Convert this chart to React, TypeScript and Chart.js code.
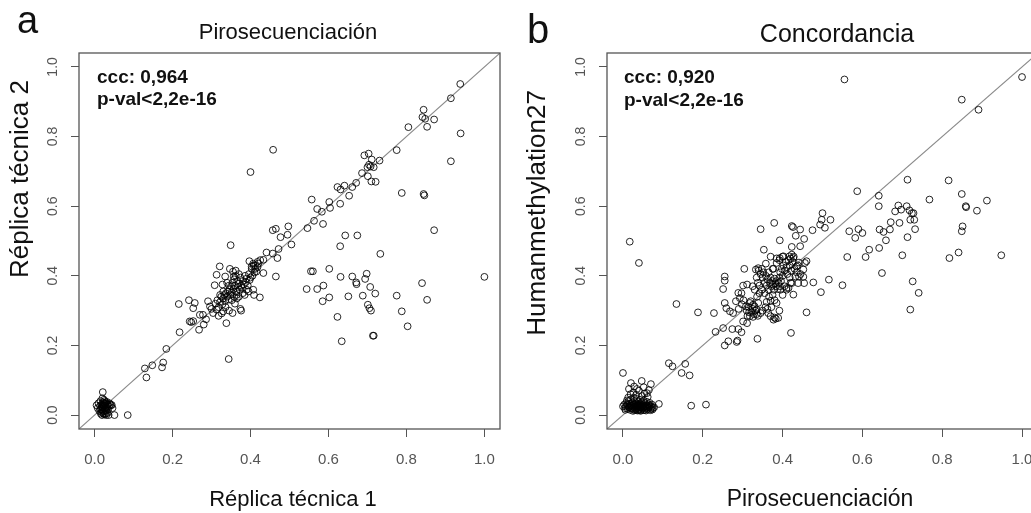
import React, { useEffect, useRef } from "react";
import { Chart, registerables } from "chart.js";

Chart.register(...registerables);

const FONT = "'Liberation Sans', Arial, Helvetica, sans-serif";

// ---- shared axis data ----
const tickValues: number[] = [0, 0.2, 0.4, 0.6, 0.8, 1.0];
const tickLabels: string[] = ["0.0", "0.2", "0.4", "0.6", "0.8", "1.0"];
const axisMin = -0.04;
const axisMax = 1.04;

// ---- panel a : Pirosecuenciación (Réplica técnica 1 vs 2) ----
const aLowCluster: [number, number][] = [
  [0.005, 0.028], [0.008, 0.02], [0.01, 0.034], [0.012, 0.012], [0.014, 0.026], [0.015, 0.04],
  [0.016, 0.004], [0.017, 0.018], [0.018, 0.03], [0.019, 0.0], [0.02, 0.024], [0.021, 0.036],
  [0.022, 0.01], [0.023, 0.028], [0.024, 0.044], [0.025, 0.002], [0.026, 0.02], [0.027, 0.032],
  [0.028, 0.014], [0.029, 0.026], [0.03, 0.0], [0.031, 0.038], [0.032, 0.022], [0.033, 0.006],
  [0.034, 0.03], [0.035, 0.016], [0.036, 0.0], [0.037, 0.025], [0.038, 0.034], [0.04, 0.03],
  [0.042, 0.028], [0.044, 0.029], [0.046, 0.02], [0.021, 0.066], [0.051, 0.0], [0.085, 0.0],
  [0.02, 0.048], [0.026, 0.04], [0.015, 0.016], [0.018, 0.008], [0.024, 0.034], [0.03, 0.012],
  [0.019, 0.022], [0.022, 0.03], [0.025, 0.026], [0.027, 0.018], [0.02, 0.014], [0.023, 0.004],
  [0.028, 0.004], [0.032, 0.03], [0.026, 0.034], [0.024, 0.012], [0.021, 0.028], [0.029, 0.036],
];
const aLowerDiagonal: [number, number][] = [
  [0.129, 0.134], [0.133, 0.108], [0.148, 0.143], [0.173, 0.137], [0.176, 0.151], [0.184, 0.19],
  [0.218, 0.238], [0.216, 0.319], [0.242, 0.33], [0.257, 0.322], [0.253, 0.307], [0.244, 0.269],
  [0.248, 0.267], [0.253, 0.27], [0.268, 0.245], [0.28, 0.26], [0.27, 0.288], [0.278, 0.288],
  [0.286, 0.275], [0.291, 0.327], [0.296, 0.312], [0.304, 0.293], [0.3, 0.305], [0.308, 0.373],
  [0.313, 0.403], [0.321, 0.427], [0.338, 0.264], [0.344, 0.161], [0.349, 0.488],
];
const aMainCluster: [number, number][] = [
  [0.31, 0.32], [0.315, 0.33], [0.318, 0.31], [0.322, 0.325], [0.325, 0.34], [0.328, 0.318],
  [0.33, 0.335], [0.333, 0.345], [0.335, 0.328], [0.337, 0.35], [0.34, 0.34], [0.342, 0.355],
  [0.344, 0.332], [0.346, 0.36], [0.348, 0.345], [0.35, 0.37], [0.352, 0.352], [0.354, 0.38],
  [0.356, 0.362], [0.358, 0.39], [0.36, 0.372], [0.362, 0.4], [0.364, 0.355], [0.366, 0.385],
  [0.368, 0.368], [0.37, 0.378], [0.372, 0.36], [0.374, 0.395], [0.376, 0.372], [0.378, 0.365],
  [0.38, 0.385], [0.383, 0.375], [0.386, 0.4], [0.388, 0.382], [0.39, 0.392], [0.393, 0.372],
  [0.396, 0.405], [0.398, 0.388], [0.4, 0.395], [0.403, 0.42], [0.405, 0.4], [0.408, 0.43],
  [0.41, 0.41], [0.412, 0.42], [0.415, 0.412], [0.418, 0.425], [0.42, 0.435], [0.424, 0.338],
  [0.407, 0.36], [0.409, 0.345], [0.374, 0.305], [0.376, 0.3], [0.354, 0.293], [0.345, 0.3],
  [0.336, 0.31], [0.33, 0.298], [0.326, 0.292], [0.318, 0.285], [0.313, 0.303], [0.36, 0.32],
  [0.365, 0.335], [0.37, 0.34], [0.38, 0.35], [0.385, 0.345], [0.39, 0.36], [0.395, 0.355],
  [0.347, 0.42], [0.355, 0.412], [0.362, 0.415], [0.37, 0.405], [0.357, 0.398], [0.335, 0.398],
  [0.328, 0.375], [0.34, 0.38], [0.345, 0.372], [0.352, 0.33], [0.358, 0.34], [0.364, 0.345],
  [0.33, 0.355], [0.322, 0.345],
];
const aUpperDiagonal: [number, number][] = [
  [0.397, 0.442], [0.403, 0.427], [0.407, 0.435], [0.412, 0.43], [0.418, 0.44], [0.425, 0.445],
  [0.433, 0.446], [0.441, 0.467], [0.433, 0.408], [0.465, 0.398], [0.457, 0.464], [0.469, 0.451],
  [0.472, 0.477], [0.477, 0.511], [0.495, 0.518], [0.505, 0.49], [0.497, 0.542], [0.465, 0.535],
  [0.457, 0.531], [0.546, 0.537], [0.563, 0.558], [0.571, 0.592], [0.583, 0.584], [0.604, 0.595],
  [0.586, 0.549], [0.557, 0.619], [0.602, 0.612], [0.63, 0.607], [0.623, 0.655], [0.641, 0.659],
  [0.631, 0.648], [0.653, 0.63], [0.661, 0.655], [0.671, 0.667], [0.686, 0.695], [0.692, 0.746],
  [0.703, 0.751], [0.711, 0.734], [0.704, 0.719], [0.708, 0.714], [0.7, 0.712], [0.716, 0.712],
  [0.701, 0.686], [0.71, 0.671], [0.721, 0.67], [0.731, 0.731], [0.775, 0.761], [0.805, 0.827],
  [0.844, 0.877], [0.841, 0.856], [0.848, 0.851], [0.853, 0.828], [0.871, 0.849], [0.914, 0.91],
  [0.938, 0.951], [0.4, 0.698], [0.458, 0.762],
];
const aOffDiagonal: [number, number][] = [
  [0.939, 0.809], [0.914, 0.729], [0.788, 0.638], [0.844, 0.635], [0.846, 0.631], [0.871, 0.531],
  [0.643, 0.516], [0.674, 0.516], [0.63, 0.485], [0.733, 0.463], [1.0, 0.397], [0.56, 0.413],
  [0.555, 0.413], [0.602, 0.42], [0.631, 0.397], [0.661, 0.398], [0.698, 0.406], [0.694, 0.391],
  [0.672, 0.376], [0.671, 0.381], [0.707, 0.368], [0.84, 0.379], [0.72, 0.349], [0.688, 0.343],
  [0.651, 0.341], [0.775, 0.343], [0.853, 0.331], [0.544, 0.362], [0.571, 0.362], [0.587, 0.372],
  [0.602, 0.338], [0.585, 0.327], [0.701, 0.317], [0.705, 0.307], [0.709, 0.3], [0.788, 0.298],
  [0.803, 0.255], [0.623, 0.282], [0.714, 0.228], [0.716, 0.228], [0.634, 0.212],
];

// ---- panel b : Concordancia (Pirosecuenciación vs Humanmethylation27) ----
const bLowCluster: [number, number][] = [
  [0.0, 0.025], [0.003, 0.03], [0.005, 0.02], [0.008, 0.035], [0.01, 0.028], [0.012, 0.018],
  [0.014, 0.04], [0.015, 0.024], [0.017, 0.032], [0.018, 0.015], [0.02, 0.045], [0.021, 0.027],
  [0.022, 0.02], [0.024, 0.036], [0.025, 0.012], [0.026, 0.03], [0.027, 0.05], [0.028, 0.022],
  [0.03, 0.04], [0.031, 0.017], [0.032, 0.028], [0.033, 0.034], [0.034, 0.024], [0.035, 0.046],
  [0.036, 0.013], [0.037, 0.031], [0.038, 0.02], [0.039, 0.038], [0.04, 0.026], [0.041, 0.016],
  [0.042, 0.033], [0.043, 0.044], [0.044, 0.022], [0.045, 0.029], [0.046, 0.014], [0.047, 0.037],
  [0.048, 0.025], [0.049, 0.019], [0.05, 0.031], [0.052, 0.042], [0.053, 0.023], [0.054, 0.016],
  [0.055, 0.034], [0.057, 0.027], [0.058, 0.02], [0.06, 0.038], [0.061, 0.025], [0.063, 0.017],
  [0.064, 0.03], [0.066, 0.022], [0.068, 0.028], [0.07, 0.018], [0.072, 0.024], [0.075, 0.02],
  [0.013, 0.05], [0.019, 0.06], [0.026, 0.065], [0.033, 0.058], [0.04, 0.07], [0.047, 0.055],
  [0.054, 0.062], [0.062, 0.052], [0.02, 0.092], [0.047, 0.098], [0.07, 0.089], [0.035, 0.075],
  [0.06, 0.063], [0.09, 0.032], [0.028, 0.082], [0.015, 0.075], [0.052, 0.08], [0.065, 0.072],
  [0.01, 0.042], [0.006, 0.015], [0.029, 0.014], [0.044, 0.012], [0.058, 0.013], [0.067, 0.035],
  [0.073, 0.03], [0.078, 0.022], [0.016, 0.022], [0.019, 0.028], [0.023, 0.025], [0.027, 0.028],
  [0.029, 0.032], [0.031, 0.025], [0.034, 0.02], [0.036, 0.028], [0.038, 0.025], [0.041, 0.022],
  [0.043, 0.027], [0.046, 0.024], [0.049, 0.028], [0.051, 0.021], [0.055, 0.025], [0.059, 0.028],
  [0.062, 0.022], [0.065, 0.026], [0.024, 0.018], [0.033, 0.015], [0.039, 0.014], [0.053, 0.014],
  [0.069, 0.014], [0.012, 0.03], [0.007, 0.025], [0.074, 0.016],
];
const bLowScatter: [number, number][] = [
  [0.115, 0.149], [0.124, 0.14], [0.156, 0.147], [0.147, 0.121], [0.167, 0.114], [0.171, 0.027],
  [0.208, 0.03], [0.0, 0.121], [0.017, 0.498], [0.04, 0.437],
];
const bMidSpread: [number, number][] = [
  [0.255, 0.398], [0.255, 0.386], [0.251, 0.362], [0.255, 0.322], [0.259, 0.307], [0.268, 0.298],
  [0.276, 0.293], [0.289, 0.351], [0.293, 0.336], [0.283, 0.327], [0.228, 0.293], [0.188, 0.295],
  [0.134, 0.319], [0.232, 0.239], [0.251, 0.25], [0.274, 0.247], [0.289, 0.247], [0.297, 0.238],
  [0.255, 0.2], [0.264, 0.212], [0.285, 0.21], [0.287, 0.214], [0.301, 0.269], [0.311, 0.264],
  [0.318, 0.284], [0.32, 0.327], [0.326, 0.317], [0.335, 0.303], [0.345, 0.293], [0.339, 0.322],
  [0.364, 0.293], [0.377, 0.274], [0.383, 0.277], [0.389, 0.279], [0.37, 0.284], [0.304, 0.42],
  [0.337, 0.219], [0.421, 0.236], [0.46, 0.295], [0.427, 0.346], [0.439, 0.379], [0.454, 0.379],
  [0.452, 0.397], [0.452, 0.418], [0.46, 0.442], [0.456, 0.437], [0.393, 0.502], [0.379, 0.552],
  [0.345, 0.534], [0.353, 0.475], [0.423, 0.543], [0.426, 0.54], [0.433, 0.515], [0.444, 0.533],
  [0.444, 0.485], [0.423, 0.483], [0.454, 0.506], [0.475, 0.531], [0.477, 0.381], [0.496, 0.353],
  [0.516, 0.389], [0.55, 0.373], [0.494, 0.547], [0.498, 0.561], [0.5, 0.58], [0.506, 0.538],
  [0.52, 0.561], [0.301, 0.372], [0.311, 0.375], [0.333, 0.418], [0.339, 0.422], [0.377, 0.42],
  [0.385, 0.437], [0.393, 0.451], [0.402, 0.456], [0.417, 0.456], [0.423, 0.461], [0.427, 0.451],
  [0.435, 0.427], [0.441, 0.398], [0.393, 0.37], [0.41, 0.365], [0.423, 0.379],
];
const bMainCluster: [number, number][] = [
  [0.31, 0.3], [0.315, 0.31], [0.318, 0.322], [0.322, 0.296], [0.325, 0.305], [0.328, 0.29],
  [0.33, 0.312], [0.332, 0.3], [0.335, 0.29], [0.338, 0.285], [0.326, 0.282], [0.312, 0.285],
  [0.316, 0.295], [0.308, 0.312], [0.34, 0.415], [0.345, 0.405], [0.348, 0.42], [0.35, 0.395],
  [0.352, 0.41], [0.355, 0.38], [0.358, 0.4], [0.36, 0.372], [0.362, 0.39], [0.365, 0.36],
  [0.368, 0.38], [0.37, 0.395], [0.372, 0.37], [0.374, 0.385], [0.376, 0.375], [0.378, 0.36],
  [0.38, 0.392], [0.382, 0.378], [0.384, 0.37], [0.386, 0.385], [0.388, 0.362], [0.39, 0.38],
  [0.392, 0.395], [0.394, 0.41], [0.396, 0.385], [0.398, 0.42], [0.4, 0.4], [0.402, 0.43],
  [0.405, 0.415], [0.408, 0.44], [0.41, 0.425], [0.412, 0.405], [0.415, 0.445], [0.418, 0.43],
  [0.42, 0.45], [0.422, 0.415], [0.425, 0.44], [0.428, 0.455], [0.43, 0.42], [0.432, 0.398],
  [0.435, 0.41], [0.438, 0.43], [0.441, 0.438], [0.415, 0.365], [0.42, 0.38], [0.405, 0.37],
  [0.395, 0.36], [0.4, 0.345], [0.366, 0.34], [0.355, 0.35], [0.348, 0.36], [0.342, 0.372],
  [0.338, 0.38], [0.335, 0.395], [0.33, 0.36], [0.325, 0.37], [0.36, 0.325], [0.37, 0.328],
  [0.38, 0.33], [0.385, 0.322], [0.357, 0.31], [0.35, 0.3], [0.362, 0.305], [0.372, 0.31],
  [0.375, 0.345], [0.41, 0.36], [0.418, 0.395], [0.445, 0.405], [0.4, 0.455], [0.392, 0.445],
  [0.385, 0.45], [0.365, 0.41], [0.358, 0.435], [0.37, 0.455], [0.375, 0.42], [0.342, 0.35],
  [0.336, 0.34], [0.302, 0.33], [0.298, 0.318], [0.29, 0.305], [0.297, 0.35], [0.38, 0.28],
  [0.392, 0.3],
];
const bUpper: [number, number][] = [
  [0.555, 0.964], [1.0, 0.971], [0.849, 0.906], [0.891, 0.877], [0.587, 0.643], [0.713, 0.676],
  [0.816, 0.674], [0.849, 0.635], [0.768, 0.619], [0.912, 0.616], [0.859, 0.6], [0.86, 0.597],
  [0.887, 0.587], [0.641, 0.63], [0.641, 0.6], [0.69, 0.602], [0.711, 0.6], [0.682, 0.585],
  [0.697, 0.59], [0.718, 0.588], [0.728, 0.58], [0.72, 0.561], [0.73, 0.561], [0.693, 0.552],
  [0.671, 0.554], [0.732, 0.534], [0.713, 0.511], [0.851, 0.542], [0.849, 0.528], [0.643, 0.533],
  [0.653, 0.526], [0.669, 0.533], [0.659, 0.502], [0.567, 0.528], [0.59, 0.534], [0.582, 0.509],
  [0.6, 0.523], [0.642, 0.48], [0.617, 0.475], [0.608, 0.454], [0.562, 0.454], [0.7, 0.459],
  [0.818, 0.451], [0.841, 0.467], [0.948, 0.459], [0.649, 0.408], [0.726, 0.384], [0.741, 0.351],
  [0.72, 0.303], [0.724, 0.58],
];

const panelAPoints = [...aLowCluster, ...aLowerDiagonal, ...aMainCluster, ...aUpperDiagonal, ...aOffDiagonal];
const panelBPoints = [...bLowCluster, ...bLowScatter, ...bMidSpread, ...bMainCluster, ...bUpper];

type TextSpec = {
  letter: string; letterX: number; letterY: number; letterSize: number;
  title: string; titleX: number; titleY: number; titleSize: number;
  ccc: string; pval: string; annX: number; annY1: number; annY2: number;
  xTitle: string; xTitleX: number; xTitleY: number; xTitleSize: number;
  yTitle: string; yTitleX: number; yTitleY: number; yTitleSize: number;
};

type PanelSpec = {
  points: [number, number][];
  width: number; left: number; yScaleWidth: number; padRight: number;
  text: TextSpec;
};

const panels: PanelSpec[] = [
  {
    points: panelAPoints, width: 515, left: 0, yScaleWidth: 79, padRight: 15,
    text: {
      letter: "a", letterX: 17, letterY: 33, letterSize: 38,
      title: "Pirosecuenciación", titleX: 288, titleY: 39, titleSize: 22,
      ccc: "ccc: 0,964", pval: "p-val<2,2e-16", annX: 97, annY1: 83, annY2: 105,
      xTitle: "Réplica técnica 1", xTitleX: 293, xTitleY: 506, xTitleSize: 22,
      yTitle: "Réplica técnica 2", yTitleX: 28, yTitleY: 179, yTitleSize: 26,
    },
  },
  {
    points: panelBPoints, width: 531, left: 515, yScaleWidth: 92, padRight: 8,
    text: {
      letter: "b", letterX: 12, letterY: 43, letterSize: 40,
      title: "Concordancia", titleX: 322, titleY: 42, titleSize: 25,
      ccc: "ccc: 0,920", pval: "p-val<2,2e-16", annX: 109, annY1: 83, annY2: 106,
      xTitle: "Pirosecuenciación", xTitleX: 305, xTitleY: 506, xTitleSize: 23,
      yTitle: "Humanmethylation27", yTitleX: 30, yTitleY: 213, yTitleSize: 26,
    },
  },
];

const H = 513;
const TOP = 53;
const XSCALE_H = 84;

function makeDecor(t: TextSpec) {
  return {
    id: "decor",
    afterDraw(chart: any) {
      const { ctx, chartArea } = chart;
      ctx.save();
      ctx.strokeStyle = "#555";
      ctx.lineWidth = 1.3;
      ctx.strokeRect(chartArea.left, chartArea.top, chartArea.right - chartArea.left, chartArea.bottom - chartArea.top);
      ctx.fillStyle = "#111";
      ctx.textBaseline = "alphabetic";
      ctx.textAlign = "left";
      ctx.font = `${t.letterSize}px ${FONT}`;
      ctx.fillText(t.letter, t.letterX, t.letterY);
      ctx.textAlign = "center";
      ctx.font = `${t.titleSize}px ${FONT}`;
      ctx.fillText(t.title, t.titleX, t.titleY);
      ctx.font = `${t.xTitleSize}px ${FONT}`;
      ctx.fillText(t.xTitle, t.xTitleX, t.xTitleY);
      ctx.textAlign = "left";
      ctx.font = `bold 19px ${FONT}`;
      ctx.fillText(t.ccc, t.annX, t.annY1);
      ctx.fillText(t.pval, t.annX, t.annY2);
      ctx.save();
      ctx.translate(t.yTitleX, t.yTitleY);
      ctx.rotate(-Math.PI / 2);
      ctx.textAlign = "center";
      ctx.font = `${t.yTitleSize}px ${FONT}`;
      ctx.fillText(t.yTitle, 0, 0);
      ctx.restore();
      ctx.restore();
    },
  };
}

function Panel({ spec }: { spec: PanelSpec }) {
  const ref = useRef<HTMLCanvasElement>(null);
  useEffect(() => {
    if (!ref.current) return;
    const gridCfg = { display: true, drawOnChartArea: false, drawTicks: true, tickLength: 8, color: "#555", lineWidth: 1 };
    const setTicks = (s: any) => { s.ticks = tickValues.map((v) => ({ value: v })); };
    const fmt = (v: any) => tickLabels[tickValues.indexOf(Number(v))] ?? "";
    const chart = new Chart(ref.current, {
      type: "scatter",
      data: {
        datasets: [
          {
            type: "scatter",
            data: spec.points.map(([x, y]) => ({ x, y })),
            pointStyle: "circle",
            pointRadius: 3.4,
            pointBorderWidth: 1,
            pointBorderColor: "rgba(0,0,0,0.85)",
            pointBackgroundColor: "rgba(0,0,0,0)",
            pointHoverRadius: 3.4,
          } as any,
          {
            type: "line",
            data: [{ x: axisMin, y: axisMin }, { x: axisMax, y: axisMax }],
            borderColor: "#8a8a8a",
            borderWidth: 1.1,
            pointRadius: 0,
            fill: false,
          } as any,
        ],
      },
      options: {
        responsive: false,
        animation: false,
        devicePixelRatio: 1,
        layout: { padding: { top: TOP, left: 0, right: spec.padRight, bottom: 0 } },
        plugins: { legend: { display: false }, tooltip: { enabled: false }, title: { display: false } },
        events: [],
        scales: {
          x: {
            type: "linear",
            min: axisMin,
            max: axisMax,
            afterBuildTicks: setTicks,
            afterFit: (s: any) => { s.height = XSCALE_H; s.paddingLeft = 0; s.paddingRight = 0; },
            ticks: { callback: fmt, color: "#555", font: { family: FONT, size: 15 }, padding: 14, maxRotation: 0, minRotation: 0, autoSkip: false },
            grid: gridCfg,
            border: { display: false },
          },
          y: {
            type: "linear",
            min: axisMin,
            max: axisMax,
            afterBuildTicks: setTicks,
            afterFit: (s: any) => { s.width = spec.yScaleWidth; s.paddingTop = 0; s.paddingBottom = 0; },
            ticks: { callback: fmt, color: "#555", font: { family: FONT, size: 14 }, padding: 8, minRotation: 90, maxRotation: 90, crossAlign: "center", autoSkip: false },
            grid: gridCfg,
            border: { display: false },
          },
        },
      } as any,
      plugins: [makeDecor(spec.text)],
    });
    return () => chart.destroy();
  }, [spec]);
  return (
    <canvas
      ref={ref}
      width={spec.width}
      height={H}
      style={{ position: "absolute", left: spec.left, top: 0, width: spec.width, height: H }}
    />
  );
}

export default function App() {
  return (
    <div style={{ position: "absolute", left: 0, top: 0, width: 1031, height: H, overflow: "hidden", background: "#fff" }}>
      {panels.map((p, i) => (
        <Panel key={i} spec={p} />
      ))}
    </div>
  );
}
